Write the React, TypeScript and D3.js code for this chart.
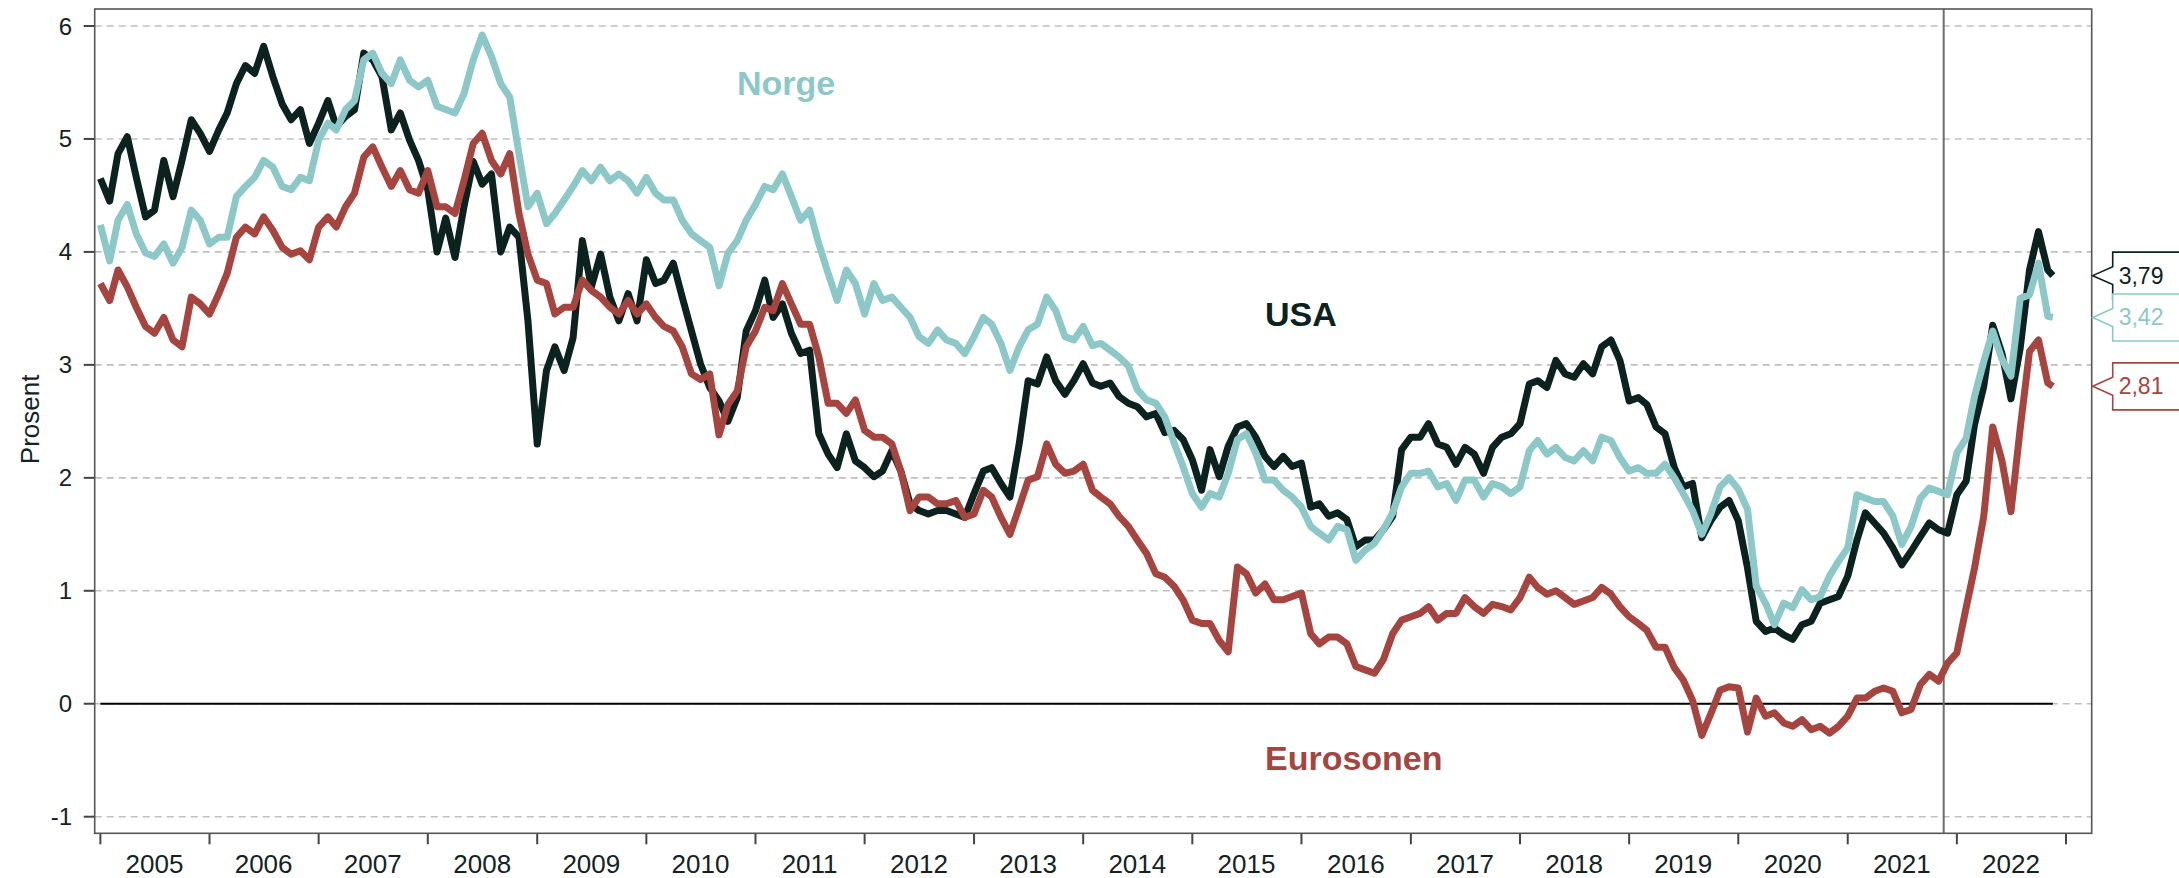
import React, { useEffect, useRef } from "react";
import * as d3 from "d3";

// monthly readings, Jan 2005 .. Nov 2022, plus the last observation
const firstMonth = new Date(2005, 0, 1);
const lastObsDate = new Date(2022, 10, 18);

const usa = [
  4.65, 4.45, 4.87, 5.02, 4.66, 4.31, 4.37, 4.81, 4.49, 4.81, 5.17, 5.05,
  4.89, 5.08, 5.23, 5.49, 5.65, 5.58, 5.82, 5.55, 5.31, 5.17, 5.26, 4.96,
  5.14, 5.34, 5.11, 5.2, 5.26, 5.76, 5.7, 5.55, 5.08, 5.23, 4.99, 4.81,
  4.55, 4.0, 4.3, 3.95, 4.4, 4.8, 4.6, 4.69, 4.0, 4.22, 4.13, 3.39,
  2.3, 2.95, 3.16, 2.95, 3.24, 4.1, 3.69, 3.98, 3.6, 3.39, 3.63, 3.39,
  3.93, 3.72, 3.75, 3.9, 3.6, 3.3, 3.01, 2.8, 2.68, 2.5, 2.71, 3.3,
  3.48, 3.75, 3.42, 3.54, 3.28, 3.1, 3.13, 2.39, 2.21, 2.09, 2.39, 2.15,
  2.09, 2.01, 2.06, 2.24, 2.06, 1.77, 1.71, 1.68, 1.71, 1.71, 1.68, 1.65,
  1.86, 2.06, 2.09, 1.95, 1.83, 2.3, 2.86, 2.83, 3.07, 2.86, 2.74, 2.86,
  3.01, 2.84, 2.81, 2.84, 2.72, 2.66, 2.63, 2.54, 2.57, 2.4, 2.42, 2.34,
  2.16, 1.89, 2.25, 2.01, 2.28, 2.45, 2.48, 2.36, 2.19, 2.1, 2.19, 2.1,
  2.13, 1.74, 1.77, 1.66, 1.69, 1.63, 1.39, 1.45, 1.45, 1.54, 1.66, 2.25,
  2.36, 2.36, 2.48, 2.3, 2.27, 2.12, 2.27, 2.21, 2.04, 2.27, 2.36, 2.39,
  2.48, 2.83, 2.86, 2.8, 3.04, 2.92, 2.89, 3.01, 2.92, 3.16, 3.22, 3.04,
  2.68, 2.71, 2.65, 2.45, 2.39, 2.09, 1.92, 1.95, 1.47, 1.62, 1.74, 1.8,
  1.62, 1.2, 0.73, 0.64, 0.67, 0.61, 0.57, 0.7, 0.73, 0.89, 0.92, 0.95,
  1.13, 1.45, 1.69, 1.6, 1.51, 1.38, 1.23, 1.35, 1.48, 1.6, 1.54, 1.51,
  1.85, 1.97, 2.47, 2.81, 3.35, 3.1, 2.7, 3.15, 3.84, 4.18, 3.84, 3.79,
];

const norge = [
  4.24, 3.92, 4.28, 4.42, 4.16, 3.99, 3.96, 4.07, 3.9, 4.04, 4.37, 4.28,
  4.07, 4.13, 4.13, 4.49, 4.58, 4.66, 4.81, 4.75, 4.58, 4.55, 4.66, 4.63,
  4.99, 5.14, 5.08, 5.26, 5.34, 5.7, 5.76, 5.58, 5.49, 5.7, 5.52, 5.46,
  5.52, 5.29, 5.26, 5.23, 5.4, 5.7, 5.92, 5.73, 5.49, 5.37, 4.87, 4.4,
  4.52, 4.25, 4.34, 4.46, 4.58, 4.72, 4.63, 4.75, 4.63, 4.69, 4.63, 4.52,
  4.66, 4.52, 4.46, 4.46, 4.28, 4.16, 4.1, 4.04, 3.7, 3.99, 4.1, 4.28,
  4.42, 4.58, 4.55, 4.69, 4.49, 4.28, 4.37, 4.07, 3.81, 3.57, 3.84, 3.72,
  3.45, 3.72, 3.57, 3.6, 3.51, 3.42, 3.25, 3.19, 3.31, 3.22, 3.19, 3.1,
  3.25, 3.42, 3.36, 3.19, 2.95, 3.16, 3.31, 3.36, 3.6, 3.48, 3.25, 3.22,
  3.34, 3.17, 3.19, 3.13, 3.07, 2.99, 2.78, 2.69, 2.66, 2.54, 2.31, 2.1,
  1.86, 1.74, 1.86, 1.83, 2.04, 2.34, 2.39, 2.22, 1.98, 1.98, 1.89, 1.83,
  1.74, 1.57, 1.51, 1.45, 1.57, 1.54, 1.27, 1.36, 1.42, 1.54, 1.69, 1.92,
  2.04, 2.04, 2.06, 1.92, 1.95, 1.8, 1.98, 1.98, 1.83, 1.95, 1.92, 1.86,
  1.92, 2.24, 2.33, 2.21, 2.27, 2.18, 2.15, 2.24, 2.15, 2.36, 2.33, 2.18,
  2.06, 2.09, 2.04, 2.04, 2.12, 2.0, 1.86, 1.71, 1.5, 1.68, 1.92, 2.0,
  1.9, 1.72, 1.04, 0.89, 0.7, 0.89, 0.85, 1.01, 0.92, 0.95, 1.13, 1.26,
  1.38, 1.85, 1.82, 1.79, 1.79, 1.66, 1.41, 1.57, 1.82, 1.91, 1.88, 1.85,
  2.22, 2.35, 2.72, 3.03, 3.3, 3.05, 2.9, 3.59, 3.62, 3.9, 3.43, 3.42,
];

const euro = [
  3.72, 3.57, 3.84, 3.69, 3.51, 3.34, 3.28, 3.42, 3.22, 3.16, 3.6, 3.54,
  3.45, 3.63, 3.81, 4.13, 4.22, 4.16, 4.31, 4.19, 4.04, 3.98, 4.01, 3.93,
  4.22, 4.31, 4.22, 4.4, 4.52, 4.84, 4.93, 4.75, 4.58, 4.72, 4.55, 4.52,
  4.72, 4.4, 4.4, 4.34, 4.63, 4.96, 5.05, 4.81, 4.69, 4.87, 4.34, 3.98,
  3.75, 3.72, 3.45, 3.51, 3.51, 3.75, 3.66, 3.6, 3.51, 3.45, 3.57, 3.45,
  3.54, 3.42, 3.34, 3.3, 3.16, 2.92, 2.87, 2.92, 2.38, 2.65, 2.77, 3.16,
  3.3, 3.51, 3.48, 3.72, 3.54, 3.36, 3.36, 3.07, 2.66, 2.66, 2.57, 2.69,
  2.42, 2.36, 2.36, 2.3, 2.06, 1.71, 1.83, 1.83, 1.77, 1.77, 1.8, 1.65,
  1.68, 1.89, 1.83, 1.65, 1.5, 1.74, 1.98, 2.01, 2.3, 2.12, 2.04, 2.06,
  2.12, 1.89, 1.83, 1.77, 1.66, 1.57, 1.45, 1.33, 1.15, 1.12, 1.04, 0.92,
  0.74, 0.71, 0.71, 0.56, 0.46, 1.21, 1.15, 0.98, 1.06, 0.92, 0.92, 0.95,
  0.98, 0.62, 0.53, 0.59, 0.59, 0.53, 0.33, 0.3, 0.27, 0.39, 0.62, 0.74,
  0.77, 0.8, 0.86, 0.74, 0.8, 0.8, 0.94, 0.86, 0.8, 0.88, 0.86, 0.83,
  0.94, 1.12, 1.03, 0.97, 1.0, 0.94, 0.88, 0.91, 0.94, 1.03, 0.97, 0.86,
  0.77, 0.71, 0.65, 0.5, 0.5, 0.32, 0.21, 0.03, -0.28, -0.09, 0.12, 0.15,
  0.14, -0.25, 0.05, -0.11, -0.08, -0.17, -0.2, -0.14, -0.23, -0.2, -0.26, -0.2,
  -0.11, 0.05, 0.05, 0.11, 0.14, 0.11, -0.08, -0.05, 0.17, 0.26, 0.2, 0.36,
  0.45, 0.85, 1.2, 1.66, 2.45, 2.15, 1.7, 2.44, 3.12, 3.22, 2.84, 2.81,
];

const yTicks = [-1, 0, 1, 2, 3, 4, 5, 6];
const yearLabels = ["2005", "2006", "2007", "2008", "2009", "2010", "2011", "2012", "2013",
  "2014", "2015", "2016", "2017", "2018", "2019", "2020", "2021", "2022"];
const markerDate = new Date(2021, 10, 18);

const series = [
  { name: "USA", values: usa, color: "#0c221f", labelDate: new Date(2015, 8, 1), labelValue: 3.34 },
  { name: "Eurosonen", values: euro, color: "#a6443f", labelDate: new Date(2015, 8, 1), labelValue: -0.59 },
  { name: "Norge", values: norge, color: "#8cc8c7", labelDate: new Date(2010, 9, 31), labelValue: 5.39 },
];
// order of the end-value callouts, top to bottom
const calloutOrder = ["USA", "Norge", "Eurosonen"];

const width = 2179;
const height = 878;
const font = "'Liberation Sans', Arial, sans-serif";

const App = () => {
  const ref = useRef(null);

  useEffect(() => {
    const svg = d3.select(ref.current);
    svg.selectAll("*").remove();

    const left = 94.7, right = 2091.7, top = 9, bottom = 833.3;
    const x = d3.scaleTime()
      .domain([new Date(2004, 11, 13), new Date(2023, 2, 28)])
      .range([left, right]);
    const y = d3.scaleLinear().domain([-1, 6]).range([816.7, 26]);

    const dates = usa.map((_, i) =>
      i < usa.length - 1 ? d3.timeMonth.offset(firstMonth, i) : lastObsDate);

    svg.append("rect")
      .attr("width", width).attr("height", height).attr("fill", "#fff");

    // gridlines
    svg.append("g")
      .selectAll("line")
      .data(yTicks)
      .join("line")
      .attr("x1", left).attr("x2", right)
      .attr("y1", (d) => y(d)).attr("y2", (d) => y(d))
      .attr("stroke", "#c0c0c0")
      .attr("stroke-width", 1.6)
      .attr("stroke-dasharray", "7,5");

    // y ticks + labels
    const yg = svg.append("g");
    yg.selectAll("line")
      .data(yTicks)
      .join("line")
      .attr("x1", left - 11).attr("x2", left)
      .attr("y1", (d) => y(d)).attr("y2", (d) => y(d))
      .attr("stroke", "#444").attr("stroke-width", 2);
    yg.selectAll("text")
      .data(yTicks)
      .join("text")
      .attr("x", 72)
      .attr("y", (d) => y(d) + 8.5)
      .attr("text-anchor", "end")
      .attr("font-family", font)
      .attr("font-size", 24)
      .attr("fill", "#14231f")
      .text((d) => String(d));

    svg.append("text")
      .attr("transform", `translate(30,${(y(3) + y(2)) / 2 - 2}) rotate(-90)`)
      .attr("text-anchor", "middle")
      .attr("dominant-baseline", "central")
      .attr("font-family", font)
      .attr("font-size", 26)
      .attr("fill", "#14231f")
      .text("Prosent");

    // x ticks + labels
    const yearStarts = d3.range(0, yearLabels.length + 1).map((i) => new Date(2005 + i, 0, 1));
    const xg = svg.append("g");
    xg.selectAll("line")
      .data(yearStarts)
      .join("line")
      .attr("x1", (d) => x(d)).attr("x2", (d) => x(d))
      .attr("y1", bottom).attr("y2", bottom + 11)
      .attr("stroke", "#444").attr("stroke-width", 2);
    xg.selectAll("text")
      .data(yearLabels)
      .join("text")
      .attr("x", (d) => x(new Date(+d, 6, 1)))
      .attr("y", 873)
      .attr("text-anchor", "middle")
      .attr("font-family", font)
      .attr("font-size", 26)
      .attr("fill", "#14231f")
      .text((d) => d);

    // zero line over the data span
    svg.append("line")
      .attr("x1", x(dates[0])).attr("x2", x(dates[dates.length - 1]))
      .attr("y1", y(0)).attr("y2", y(0))
      .attr("stroke", "#000").attr("stroke-width", 2);

    // vertical marker
    svg.append("line")
      .attr("x1", x(markerDate)).attr("x2", x(markerDate))
      .attr("y1", top).attr("y2", bottom)
      .attr("stroke", "#6e6e6e").attr("stroke-width", 2);

    // series
    const line = d3.line()
      .x((d, i) => x(dates[i]))
      .y((d) => y(d))
      .curve(d3.curveLinear);

    svg.append("g")
      .selectAll("path")
      .data(series)
      .join("path")
      .attr("d", (s) => line(s.values))
      .attr("fill", "none")
      .attr("stroke", (s) => s.color)
      .attr("stroke-width", 7)
      .attr("stroke-linejoin", "round");

    // series names
    svg.append("g")
      .selectAll("text")
      .data(series)
      .join("text")
      .attr("x", (s) => x(s.labelDate))
      .attr("y", (s) => y(s.labelValue))
      .attr("font-family", font)
      .attr("font-size", 34)
      .attr("font-weight", "bold")
      .attr("fill", (s) => s.color)
      .text((s) => s.name);

    // frame
    svg.append("rect")
      .attr("x", left).attr("y", top)
      .attr("width", right - left).attr("height", bottom - top)
      .attr("fill", "none")
      .attr("stroke", "#555").attr("stroke-width", 1.6);

    // end-value callouts
    const bx = right + 21, half = 23.5, notch = 9;
    const cg = svg.append("g");
    calloutOrder.forEach((name) => {
      const s = series.find((d) => d.name === name);
      const v = s.values[s.values.length - 1];
      const yv = y(v);
      cg.append("path")
        .attr("d", `M${width + 10},${yv - half}H${bx}V${yv - notch}L${right + 1},${yv}L${bx},${yv + notch}V${yv + half}H${width + 10}`)
        .attr("fill", "#fff")
        .attr("stroke", s.color)
        .attr("stroke-width", 1.6);
      cg.append("text")
        .attr("x", bx + 6)
        .attr("y", yv + 8)
        .attr("font-family", font)
        .attr("font-size", 23)
        .attr("fill", s.color)
        .text(d3.format(".2f")(v).replace(".", ","));
    });
  }, []);

  return (
    <svg
      ref={ref}
      width={width}
      height={height}
      style={{ position: "absolute", left: 0, top: 0, display: "block" }}
    />
  );
};

export default App;
